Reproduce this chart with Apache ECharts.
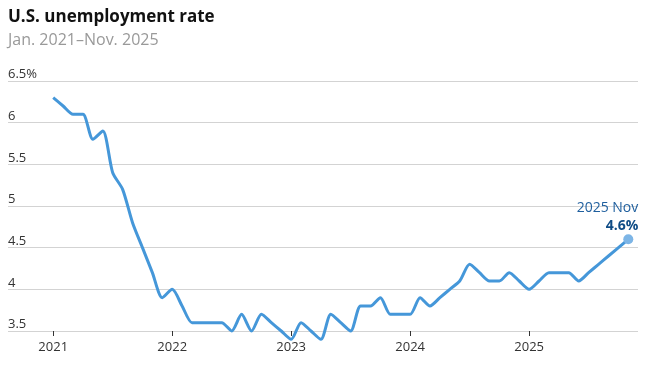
<!DOCTYPE html>
<html><head><meta charset="utf-8">
<script src="https://cdn.jsdelivr.net/npm/echarts@6/dist/echarts.min.js"></script>
<style>html,body{margin:0;padding:0;background:#fff}#c{width:648px;height:367px}</style>
</head><body><div id="c"></div>
<script>
const years = ['2021','2022','2023','2024','2025'];
const yTicks = [3.5, 4, 4.5, 5, 5.5, 6, 6.5];
const rate2021 = [6.3,6.2,6.1,6.1,5.8,5.9,5.4,5.2,4.8,4.5,4.2,3.9];
const rate2022 = [4.0,3.8,3.6,3.6,3.6,3.6,3.5,3.7,3.5,3.7,3.6,3.5];
const rate2023 = [3.4,3.6,3.5,3.4,3.7,3.6,3.5,3.8,3.8,3.9,3.7,3.7];
const rate2024 = [3.7,3.9,3.8,3.9,4.0,4.1,4.3,4.2,4.1,4.1,4.2,4.1];
const rate2025 = [4.0,4.1,4.2,4.2,4.2,4.1,4.2,4.3,4.4,null,4.6];

const all = [].concat(rate2021, rate2022, rate2023, rate2024, rate2025);
const lastIdx = all.length - 1;
const data = all.map((v, i) => {
  if (i === lastIdx) {
    return {
      value: [i, v],
      symbol: 'circle', symbolSize: 10,
      itemStyle: {color: '#7db5e6', opacity: 1},
      label: {
        show: true, position: 'top', align: 'right', offset: [10, 6],
        formatter: '{a|2025 Nov}\n{b|' + v + '%}',
        rich: {
          a: {fontFamily: 'Open Sans', fontSize: 14, color: '#1f5f9e', align: 'right', lineHeight: 18},
          b: {fontFamily: 'Open Sans', fontSize: 14, fontWeight: 'bold', color: '#0f4c86', align: 'right', lineHeight: 18}
        }
      }
    };
  }
  return [i, v];
});

const chart = echarts.init(document.getElementById('c'));
chart.setOption({
  animation: false,
  title: {
    text: 'U.S. unemployment rate',
    subtext: 'Jan. 2021\u2013Nov. 2025',
    left: 3, top: 4, itemGap: 6,
    textStyle: {fontFamily: 'Open Sans', fontSize: 17, fontWeight: 'bold', color: '#111'},
    subtextStyle: {fontFamily: 'Open Sans', fontSize: 16, color: '#999'}
  },
  grid: {left: 8, right: 10, top: 81, bottom: 36, containLabel: false},
  xAxis: {
    type: 'value', min: -4.56, max: 58.98,
    splitLine: {show: false},
    axisLine: {show: false},
    axisTick: {show: true, length: 5, lineStyle: {color: '#333'}, customValues: [0, 12, 24, 36, 48]},
    axisLabel: {
      customValues: [0, 12, 24, 36, 48],
      formatter: v => years[Math.round(v / 12)],
      fontFamily: 'Open Sans', fontSize: 13, color: '#333', margin: 10
    }
  },
  yAxis: {
    type: 'value', min: 3.5, max: 6.5, interval: 0.5,
    axisLine: {show: false}, axisTick: {show: false},
    splitLine: {lineStyle: {color: '#d3d3d3', width: 1}},
    axisLabel: {
      inside: true, verticalAlign: 'bottom', margin: 0,
      fontFamily: 'Open Sans', fontSize: 13, color: '#333',
      formatter: v => (yTicks.indexOf(v) === yTicks.length - 1 ? v + '%' : String(v))
    }
  },
  series: [{
    type: 'line', data: data, smooth: 0.25, connectNulls: true,
    clip: false, showSymbol: true, symbol: 'none',
    lineStyle: {color: '#4597d9', width: 3},
    itemStyle: {color: '#4597d9'}
  }]
});
</script></body></html>
